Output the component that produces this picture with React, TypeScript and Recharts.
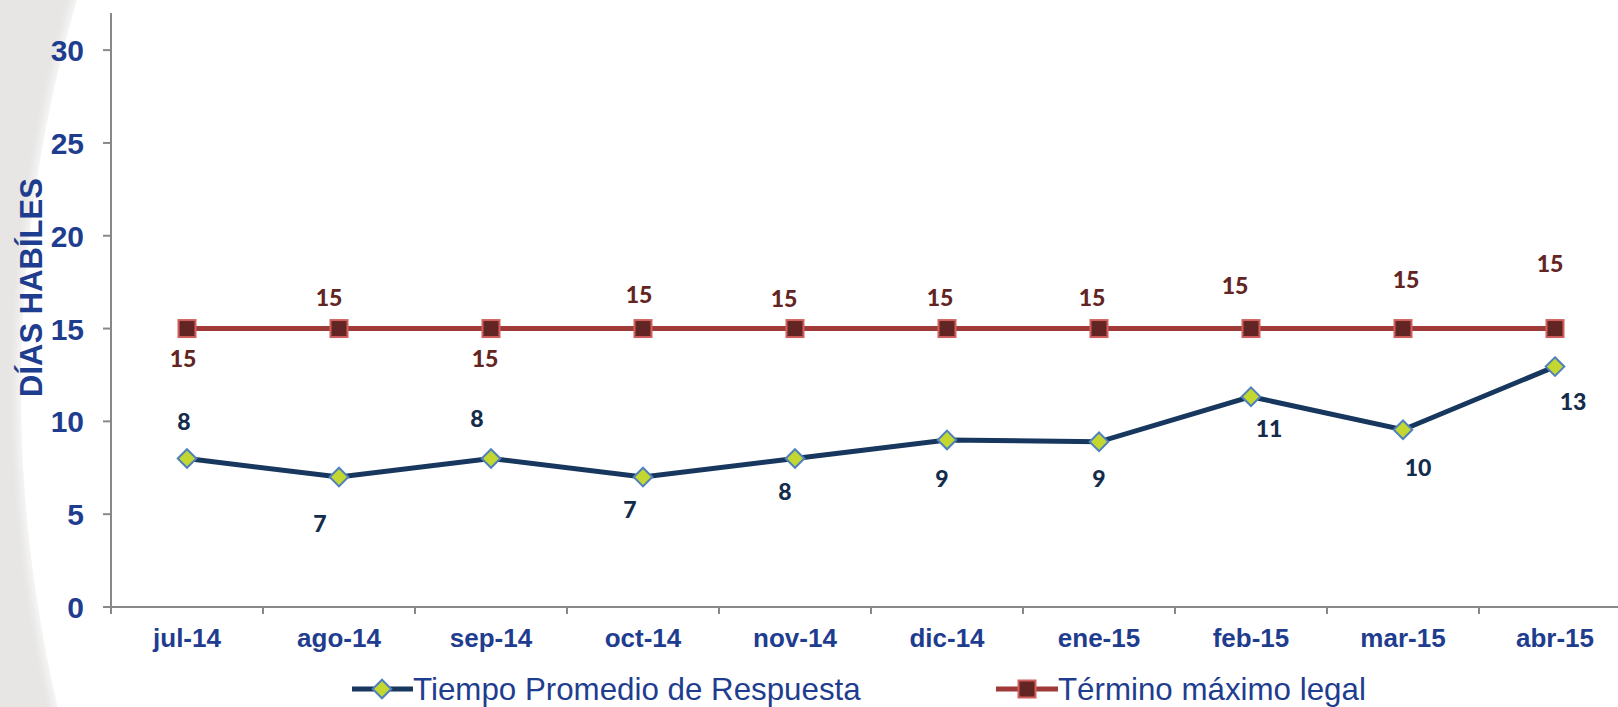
import React from 'react';
import { LineChart, Line, XAxis, YAxis, LabelList } from 'recharts';

const categories = ['jul-14', 'ago-14', 'sep-14', 'oct-14', 'nov-14', 'dic-14', 'ene-15', 'feb-15', 'mar-15', 'abr-15'];
const tiempoPromedio = [8, 7, 8, 7, 8, 9, 8.9, 11.33, 9.55, 12.95];
const terminoMaximo = [15, 15, 15, 15, 15, 15, 15, 15, 15, 15];
const yTicks = [0, 5, 10, 15, 20, 25, 30];
const seriesNames = ['Tiempo Promedio de Respuesta', 'Término máximo legal'];
const yTitle = 'DÍAS HABÍLES';

// label placement offsets (styling, dx/dy from the point)
const tiempoLabelOffsets = [[-3, -37], [-19, 46], [-14, -40], [-13, 32], [-10, 33], [-5, 39], [0, 37], [18, 32], [15, 38], [18, 35]];
const terminoLabelOffsets = [[-4, 30], [-10, -31], [-6, 30], [-4, -34], [-11, -30], [-7, -31], [-7, -31], [-16, -43], [3, -49], [-5, -65]];

const data = categories.map((c, i) => ({ cat: c, tiempo: tiempoPromedio[i], termino: terminoMaximo[i] }));

const W = 1660;
const H = 707;
const M = { top: 13, right: 29, left: 0, bottom: 60 };
const YAXIS_W = 111;
const AXIS_COLOR = '#888888';
const BLUE = '#1F3D8F';
const NAVY = '#17375E';
const LABEL_NAVY = '#142C4C';
const LIME = '#C3D730';
const DIAMOND_STROKE = '#4F81BD';
const RED_LINE = '#A03A39';
const MAROON = '#632523';
const SQUARE_STROKE = '#D0605E';
const FONT = "'Liberation Sans', Arial, sans-serif";
const LABEL_FONT = "Lato, 'Open Sans', sans-serif";

const plotW = W - M.left - M.right - YAXIS_W;

const Diamond = (props: any) => {
  const { cx, cy, index } = props;
  if (cx == null || cy == null) return null;
  const r = 9.3;
  return (
    <path key={`d${index}`} d={`M${cx},${cy - r}L${cx + r},${cy}L${cx},${cy + r}L${cx - r},${cy}Z`} fill={LIME} stroke={DIAMOND_STROKE} strokeWidth={2} />
  );
};

const Square = (props: any) => {
  const { cx, cy, index } = props;
  if (cx == null || cy == null) return null;
  const s = 17;
  return <rect key={`s${index}`} x={cx - s / 2} y={cy - s / 2} width={s} height={s} fill={MAROON} stroke={SQUARE_STROKE} strokeWidth={2} />;
};

const makeLabel = (offsets: number[][], color: string) => (props: any) => {
  const { x, y, value, index } = props;
  const [dx, dy] = offsets[index] || [0, -30];
  return (
    <text x={x + dx} y={y + dy + 8.5} textAnchor="middle" fill={color} fontFamily={LABEL_FONT} fontWeight={900} fontSize={23}>
      {Math.round(Number(value))}
    </text>
  );
};

const XTick = (props: any) => {
  const { x, y, payload } = props;
  const half = payload && payload.offset ? payload.offset : plotW / categories.length / 2;
  const axisY = y - 21;
  const bx = x - half;
  return (
    <g>
      <line x1={bx} y1={axisY} x2={bx} y2={axisY + 7} stroke={AXIS_COLOR} strokeWidth={2} />
      <text x={x} y={axisY + 40} textAnchor="middle" fill={BLUE} fontFamily={FONT} fontWeight={700} fontSize={26}>
        {payload.value}
      </text>
    </g>
  );
};

const YTick = (props: any) => {
  const { x, y, payload } = props;
  return (
    <text x={x} y={y + 11} textAnchor="end" fill={BLUE} fontFamily={FONT} fontWeight={700} fontSize={30}>
      {payload.value}
    </text>
  );
};

const YTitle = () => (
  <text transform="translate(42, 287.5) rotate(-90)" textAnchor="middle" fill={BLUE} fontFamily={FONT} fontWeight={700} fontSize={31}>
    {yTitle}
  </text>
);

const LegendOverlay = () => (
  <svg width={1618} height={707} style={{ position: 'absolute', left: 0, top: 0, pointerEvents: 'none' }}>
    <line x1={352} y1={689} x2={413} y2={689} stroke={NAVY} strokeWidth={5} />
    <Diamond cx={382} cy={689} index={-1} />
    <text x={413} y={700} fill={BLUE} fontFamily={FONT} fontSize={31.3}>{seriesNames[0]}</text>
    <line x1={996} y1={689} x2={1058} y2={689} stroke={RED_LINE} strokeWidth={5} />
    <Square cx={1027} cy={689} index={-2} />
    <text x={1058} y={700} fill={BLUE} fontFamily={FONT} fontSize={31.3}>{seriesNames[1]}</text>
  </svg>
);

export default function App() {
  return (
    <div style={{ position: 'fixed', left: 0, top: 0, width: 1618, height: 707, overflow: 'hidden', background: '#E7E6E5' }}>
      <div style={{ position: 'absolute', left: 21, top: 390 - 1386, width: 2772, height: 2772, borderRadius: '50%', background: '#FFFFFF', boxShadow: '0 0 8px 4px rgba(255,255,255,0.7)' }} />
      <div style={{ position: 'absolute', left: 0, top: 0 }}>
        <LineChart width={W} height={H} data={data} margin={M}>
          <XAxis
            dataKey="cat"
            scale="band"
            tick={<XTick />}
            tickLine={false}
            tickSize={7}
            tickMargin={14}
            height={40}
            axisLine={{ stroke: AXIS_COLOR, strokeWidth: 2 }}
            interval={0}
          />
          <YAxis
            domain={[0, 32]}
            ticks={yTicks}
            width={YAXIS_W}
            tick={<YTick />}
            tickSize={8}
            tickMargin={19}
            tickLine={{ stroke: AXIS_COLOR, strokeWidth: 2 }}
            axisLine={{ stroke: AXIS_COLOR, strokeWidth: 2 }}
            label={<YTitle />}
            allowDataOverflow
          />
          <Line
            dataKey="tiempo"
            name={seriesNames[0]}
            stroke={NAVY}
            strokeWidth={5}
            dot={<Diamond />}
            activeDot={false}
            isAnimationActive={false}
          >
            <LabelList dataKey="tiempo" content={makeLabel(tiempoLabelOffsets, LABEL_NAVY)} />
          </Line>
          <Line
            dataKey="termino"
            name={seriesNames[1]}
            stroke={RED_LINE}
            strokeWidth={5}
            dot={<Square />}
            activeDot={false}
            isAnimationActive={false}
          >
            <LabelList dataKey="termino" content={makeLabel(terminoLabelOffsets, MAROON)} />
          </Line>
        </LineChart>
      </div>
      <LegendOverlay />
    </div>
  );
}
